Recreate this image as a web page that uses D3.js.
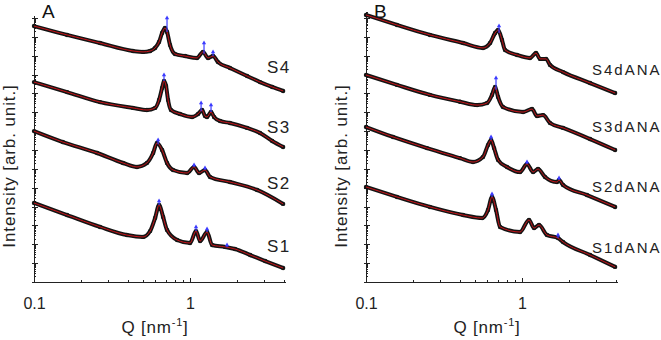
<!DOCTYPE html>
<html lang="en">
<head>
<meta charset="utf-8">
<title>SAXS profiles S1-S4 and S1dANA-S4dANA</title>
<script src="https://cdn.jsdelivr.net/npm/d3@7"></script>
<style>
  body { margin: 0; background: #fff; }
  svg { font-family: "Liberation Sans", Arial, sans-serif; }
  .axis path, .axis line { stroke: #222; fill: none; shape-rendering: crispEdges; }
</style>
</head>
<body>
<script>
// x axis ticks
var qMajor = [0.1, 1];
var qLabels = ["0.1", "1"];
var qMinor = [0.2, 0.3, 0.4, 0.5, 0.6, 0.7, 0.8, 0.9, 2, 3, 4];

var panelLetters = ["A", "B"];
var namesA = ["S4", "S3", "S2", "S1"];
var namesB = ["S4dANA", "S3dANA", "S2dANA", "S1dANA"];

// curves: [Q (nm^-1), log10 intensity (arb., offset per sample)]
var A_S4 = [[0.10,13.57],[0.163,13.10],[0.265,12.67],[0.431,12.25],[0.50,12.20],[0.555,12.25],[0.597,12.41],[0.633,12.73],[0.662,13.20],[0.691,13.47],[0.712,13.26],[0.744,12.57],[0.801,12.09],[0.929,11.98],[1.108,11.88],[1.211,12.20],[1.304,11.88],[1.404,11.98],[1.511,11.66],[1.803,11.35],[2.32,10.92],[2.81,10.60],[3.36,10.34],[3.95,10.13]];
var A_S3 = [[0.10,10.60],[0.163,10.07],[0.265,9.54],[0.431,9.23],[0.529,9.12],[0.597,9.23],[0.633,9.65],[0.662,10.29],[0.681,10.66],[0.702,10.39],[0.723,9.65],[0.755,9.12],[0.863,8.91],[1.030,8.75],[1.125,8.91],[1.194,9.12],[1.247,8.80],[1.285,8.75],[1.363,9.01],[1.425,8.75],[1.557,8.54],[1.803,8.43],[2.32,8.17],[2.81,7.90],[3.36,7.48],[3.95,7.16]];
var A_S2 = [[0.10,8.00],[0.153,7.42],[0.254,6.84],[0.372,6.31],[0.457,6.10],[0.529,6.31],[0.580,6.84],[0.614,7.37],[0.662,7.00],[0.712,6.31],[0.778,5.94],[0.958,5.78],[1.061,6.10],[1.142,5.78],[1.247,5.94],[1.343,5.57],[1.803,5.30],[2.69,4.88],[3.95,4.14]];
var A_S1 = [[0.10,4.19],[0.163,3.55],[0.265,2.92],[0.394,2.49],[0.50,2.39],[0.555,2.70],[0.597,3.39],[0.633,4.08],[0.672,3.45],[0.712,2.76],[0.826,2.23],[1.0,2.07],[1.092,2.70],[1.159,2.17],[1.285,2.65],[1.384,1.96],[1.675,1.86],[1.941,1.75],[2.43,1.43],[3.03,1.11],[3.95,0.74]];

var B_S4 = [[0.10,14.16],[0.158,13.63],[0.257,13.10],[0.419,12.67],[0.562,12.41],[0.624,12.67],[0.672,13.20],[0.702,13.36],[0.744,12.83],[0.778,12.30],[0.929,12.04],[1.125,11.88],[1.229,12.14],[1.304,11.83],[1.425,11.83],[1.511,11.51],[1.832,11.13],[2.73,10.55],[3.95,10.02]];
var B_S3 = [[0.10,10.98],[0.158,10.45],[0.257,9.92],[0.40,9.56],[0.515,9.38],[0.597,9.49],[0.642,9.92],[0.672,10.34],[0.702,9.81],[0.755,9.28],[1.015,9.01],[1.159,9.17],[1.247,8.80],[1.363,8.85],[1.511,8.43],[1.832,8.17],[2.73,7.58],[3.95,7.00]];
var B_S2 = [[0.10,8.22],[0.149,7.69],[0.246,7.10],[0.40,6.57],[0.485,6.36],[0.562,6.63],[0.605,7.26],[0.633,7.53],[0.662,7.10],[0.702,6.47],[0.801,6.10],[0.971,5.83],[1.076,6.26],[1.177,5.83],[1.266,5.99],[1.404,5.57],[1.675,5.30],[1.726,5.41],[1.832,5.14],[2.61,4.61],[3.95,3.98]];
var B_S1 = [[0.10,5.04],[0.158,4.51],[0.257,3.98],[0.419,3.55],[0.555,3.39],[0.605,3.82],[0.642,4.51],[0.681,3.82],[0.723,2.92],[0.971,2.65],[1.108,3.29],[1.194,2.86],[1.285,3.02],[1.446,2.49],[1.70,2.33],[1.832,2.12],[2.73,1.43],[3.95,0.80]];

// blue data only sticking out at the Bragg peaks: [Q, log10 I at curve, log10 I at tip]
var A_S4_blue = [[0.712,13.26,14.0],[1.229,12.10,12.67],[1.404,11.98,12.20]];
var A_S3_blue = [[0.681,10.66,10.98],[1.177,9.05,9.49],[1.363,9.01,9.38]];
var A_S2_blue = [[0.624,7.30,7.53],[1.061,6.10,6.20],[1.247,5.94,6.04]];
var A_S1_blue = [[0.633,4.08,4.29],[1.092,2.70,2.92],[1.285,2.65,2.81],[1.726,1.84,1.96]];
var B_S4_blue = [[0.712,13.20,13.57]];
var B_S3_blue = [[0.681,10.20,10.82]];
var B_S2_blue = [[0.633,7.53,7.69],[1.076,6.26,6.36],[1.726,5.41,5.51]];
var B_S1_blue = [[0.642,4.51,4.67],[1.70,2.33,2.49]];

var w = 661, h = 340;
var axisY = 282;      // x axis line
var pxPerDecade = 18.86;

var panels = [
  { letter: panelLetters[0], x0: 34, top: 15, names: namesA,
    curves: [A_S4, A_S3, A_S2, A_S1], blue: [A_S4_blue, A_S3_blue, A_S2_blue, A_S1_blue],
    nameX: 267, nameY: [73, 133, 189, 252], nameSize: 17, nameSpacing: 1.5 },
  { letter: panelLetters[1], x0: 366, top: 11, names: namesB,
    curves: [B_S4, B_S3, B_S2, B_S1], blue: [B_S4_blue, B_S3_blue, B_S2_blue, B_S1_blue],
    nameX: 592, nameY: [75, 132, 192, 253], nameSize: 15, nameSpacing: 2 }
];

var svg = d3.select("body").append("svg")
  .attr("width", w)
  .attr("height", h);

panels.forEach(function(p) {
  var xScale = d3.scaleLog()
    .domain([0.1, 4.06])
    .range([p.x0, p.x0 + 251]);
  var yScale = d3.scaleLog()
    .domain([1, Math.pow(10, (axisY - p.top) / pxPerDecade)])
    .range([axisY, p.top]);

  var decades = d3.range(0, 15).map(function(k) { return Math.pow(10, k); });
  var minors = [];
  decades.forEach(function(d) {
    for (var m = 2; m < 10; m++) if (d * m < yScale.domain()[1]) minors.push(d * m);
  });

  var g = svg.append("g");

  // X axis
  g.append("g").attr("class", "axis")
    .attr("transform", "translate(0," + axisY + ")")
    .call(d3.axisBottom(xScale).tickValues(qMinor).tickFormat("").tickSizeInner(-2).tickSizeOuter(0));
  var xa = g.append("g").attr("class", "axis")
    .attr("transform", "translate(0," + axisY + ")")
    .call(d3.axisBottom(xScale).tickValues(qMajor)
      .tickFormat(function(d, i) { return qLabels[i]; })
      .tickSizeInner(-4).tickSizeOuter(0).tickPadding(16));
  xa.selectAll("text")
    .attr("font-size", 16)
    .attr("font-family", "Liberation Sans, Arial, sans-serif")
    .attr("fill", "#222");

  // Y axis (log, unlabelled)
  g.append("g").attr("class", "axis")
    .attr("transform", "translate(" + p.x0 + ",0)")
    .call(d3.axisLeft(yScale).tickValues(minors).tickFormat("").tickSizeInner(-1.5).tickSizeOuter(0));
  g.append("g").attr("class", "axis")
    .attr("transform", "translate(" + p.x0 + ",0)")
    .call(d3.axisLeft(yScale).tickValues(decades).tickFormat("").tickSizeInner(-4).tickSizeOuter(0));
  g.append("g").attr("class", "axis")
    .attr("transform", "translate(" + p.x0 + ",0)")
    .call(d3.axisLeft(yScale).tickValues(decades).tickFormat("").tickSizeInner(2).tickSizeOuter(0));

  // axis titles
  var q = g.append("text")
    .attr("x", p.x0 + 121)
    .attr("y", 333)
    .attr("text-anchor", "middle")
    .attr("font-size", 17)
    .attr("letter-spacing", 0.8)
    .attr("fill", "#222");
  q.append("tspan").text("Q [nm");
  q.append("tspan").attr("font-size", 11).attr("dy", -7).text("-1");
  q.append("tspan").attr("dy", 7).text("]");

  g.append("text")
    .attr("transform", "translate(" + (p.x0 - 19) + ",166) rotate(-90)")
    .attr("text-anchor", "middle")
    .attr("font-size", 17)
    .attr("letter-spacing", 0.9)
    .attr("fill", "#222")
    .text("Intensity [arb. unit.]");

  g.append("text")
    .attr("x", p.x0 + 8)
    .attr("y", 18)
    .attr("font-size", 19)
    .attr("fill", "#111")
    .text(p.letter);

  var line = d3.line()
    .x(function(d) { return xScale(d[0]); })
    .y(function(d) { return yScale(Math.pow(10, d[1])); })
    .curve(d3.curveMonotoneX);

  p.curves.forEach(function(c, i) {
    // measured data (black)
    g.append("path")
      .datum(c)
      .attr("d", line)
      .attr("fill", "none")
      .attr("stroke", "#141414")
      .attr("stroke-width", 4)
      .attr("stroke-linejoin", "round");
    g.selectAll(null)
      .data(c)
      .enter()
      .append("circle")
      .attr("cx", function(d) { return xScale(d[0]); })
      .attr("cy", function(d) { return yScale(Math.pow(10, d[1])); })
      .attr("r", 2.2)
      .attr("fill", "#141414");
    // fit (red)
    g.append("path")
      .datum(c)
      .attr("d", line)
      .attr("fill", "none")
      .attr("stroke", "#e8151b")
      .attr("stroke-width", 1)
      .attr("stroke-opacity", 0.85);
    // blue peak points
    var b = g.selectAll(null)
      .data(p.blue[i])
      .enter();
    b.append("line")
      .attr("x1", function(d) { return xScale(d[0]); })
      .attr("x2", function(d) { return xScale(d[0]); })
      .attr("y1", function(d) { return yScale(Math.pow(10, d[1])); })
      .attr("y2", function(d) { return yScale(Math.pow(10, d[2])); })
      .attr("stroke", "#3b3bff")
      .attr("stroke-width", 1.2);
    b.append("path")
      .attr("d", d3.symbol(d3.symbolTriangle, 8))
      .attr("transform", function(d) {
        return "translate(" + xScale(d[0]) + "," + yScale(Math.pow(10, d[2])) + ")";
      })
      .attr("fill", "#3b3bff");
  });

  // sample names
  g.selectAll(null)
    .data(p.names)
    .enter()
    .append("text")
    .attr("x", p.nameX)
    .attr("y", function(d, i) { return p.nameY[i]; })
    .attr("font-size", p.nameSize)
    .attr("letter-spacing", p.nameSpacing)
    .attr("fill", "#222")
    .text(function(d) { return d; });
});
</script>
</body>
</html>
